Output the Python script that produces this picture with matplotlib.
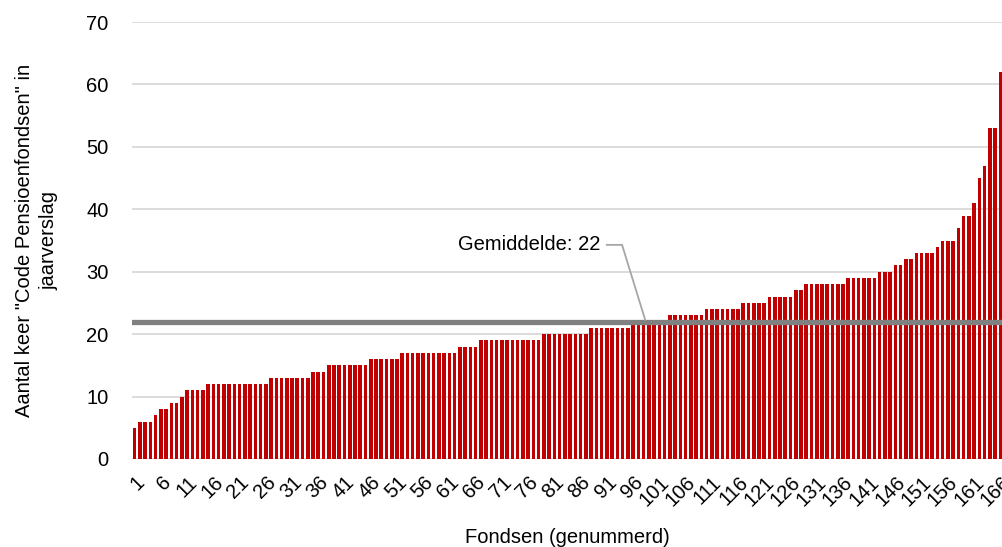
#Import libs
from matplotlib import pyplot as plt
import numpy as np

#Data: runs of (value, number of funds), sorted low to high
run_values = [5, 6, 7, 8, 9, 10, 11, 12, 13, 14, 15, 16, 17, 18, 19, 20, 21, 22, 23, 24,
              25, 26, 27, 28, 29, 30, 31, 32, 33, 34, 35, 37, 39, 41, 45, 47, 53, 62]
run_counts = [1, 3, 1, 2, 2, 1, 4, 12, 8, 3, 8, 6, 11, 4, 12, 9, 8, 7, 7, 7,
              5, 5, 2, 8, 6, 3, 2, 2, 4, 1, 3, 1, 2, 1, 1, 1, 2, 1]
mean_value = 22

counts = np.repeat(run_values, run_counts)
funds = np.arange(1, len(counts) + 1)
tick_funds = funds[::5]

#Colours
bar_color = "#C00000"
grid_color = "#D9D9D9"
mean_color = "#808080"
leader_color = "#A6A6A6"

plt.rcParams['font.family'] = ['Liberation Sans', 'DejaVu Sans']

fig = plt.figure(figsize=(10.03, 5.47), dpi=100)
ax = fig.add_axes([132 / 1003, 88 / 547, 871 / 1003, 437 / 547])

#Bars and the average line
ax.bar(funds, counts, width=0.68, color=bar_color, zorder=2)
ax.axhline(mean_value, color=mean_color, linewidth=3.8, zorder=3)

#Label for the average with a small leader line
ax.plot([91.0, 93.9, 98.3], [34.3, 34.3, mean_value + 0.3], color=leader_color,
        linewidth=1.3, zorder=4)
ax.text(89.8, 34.3, "Gemiddelde: " + str(mean_value), ha="right", va="center",
        fontsize=14.5, color="#000000")

#Axes setup
ax.set_xlim(0.5, len(counts) + 0.5)
ax.set_ylim(0, 70)
ax.set_yticks(range(0, 71, 10))
ax.yaxis.grid(True, color=grid_color, linewidth=1.3, zorder=0)
ax.set_axisbelow(True)
for side in ["top", "right", "left", "bottom"]:
    ax.spines[side].set_visible(False)

ax.set_xticks(tick_funds)
ax.set_xticklabels([str(f) for f in tick_funds], rotation=45, ha="right",
                   rotation_mode="anchor", fontsize=14.5)
ax.tick_params(axis="x", length=0, pad=10)
ax.tick_params(axis="y", length=0, pad=17, labelsize=14.5)

ax.set_xlabel("Fondsen (genummerd)", fontsize=14.5, labelpad=13)
ax.set_ylabel('Aantal keer "Code Pensioenfondsen" in\njaarverslag', fontsize=14.5,
              labelpad=20, linespacing=1.35)

fig.savefig("out.png", dpi=100)
